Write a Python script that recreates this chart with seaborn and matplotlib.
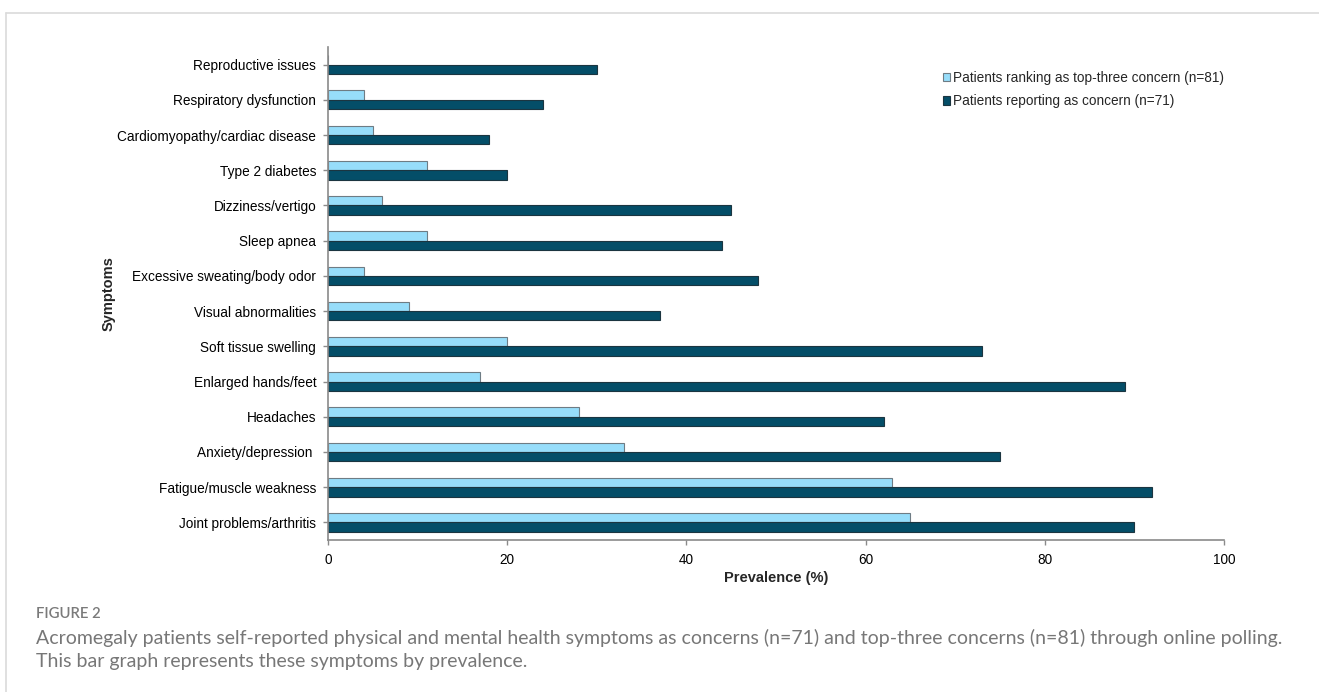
import matplotlib
matplotlib.use("Agg")
import matplotlib.pyplot as plt
from matplotlib.lines import Line2D
from matplotlib.patches import Patch
import pandas as pd
import seaborn as sns

symptoms = [
    "Reproductive issues",
    "Respiratory dysfunction",
    "Cardiomyopathy/cardiac disease",
    "Type 2 diabetes",
    "Dizziness/vertigo",
    "Sleep apnea",
    "Excessive sweating/body odor",
    "Visual abnormalities",
    "Soft tissue swelling",
    "Enlarged hands/feet",
    "Headaches",
    "Anxiety/depression ",
    "Fatigue/muscle weakness",
    "Joint problems/arthritis",
]
top_three = [0, 4, 5, 11, 6, 11, 4, 9, 20, 17, 28, 33, 63, 65]
reporting = [30, 24, 18, 20, 45, 44, 48, 37, 73, 89, 62, 75, 92, 90]

series_top = "Patients ranking as top-three concern (n=81)"
series_rep = "Patients reporting as concern (n=71)"
x_ticks = [0, 20, 40, 60, 80, 100]

caption_head = "FIGURE 2"
caption_lines = [
    "Acromegaly patients self-reported physical and mental health symptoms as "
    "concerns (n=71) and top-three concerns (n=81) through online polling.",
    "This bar graph represents these symptoms by prevalence.",
]

df = pd.DataFrame({
    "Symptom": symptoms * 2,
    "Prevalence": top_three + reporting,
    "Group": [series_top] * len(symptoms) + [series_rep] * len(symptoms),
})

light = "#97DDFA"
dark = "#044E68"
light_edge = "#6E7C84"
dark_edge = "#1B3540"
axis_gray = "#8A8A8A"

sns.set_style("white")
plt.rcParams["font.family"] = ["Liberation Sans", "DejaVu Sans"]

W, H = 1319, 692
fig = plt.figure(figsize=(W / 100, H / 100), dpi=100)
ax = fig.add_axes([328 / W, 1 - 540 / H, (1224 - 328) / W, (540 - 47) / H])

sns.barplot(
    data=df, x="Prevalence", y="Symptom", hue="Group", order=symptoms,
    hue_order=[series_top, series_rep], palette=[light, dark],
    orient="h", width=0.53, gap=0, dodge=True, saturation=1,
    errorbar=None, ax=ax, legend=False,
)

for bar, grp in zip(ax.patches, [series_top] * len(symptoms) + [series_rep] * len(symptoms)):
    bar.set_edgecolor(light_edge if grp == series_top else dark_edge)
    bar.set_linewidth(0.8)

ax.set_xlim(0, 100)
ax.set_ylim(len(symptoms) - 0.5, -0.5)
ax.set_xticks(x_ticks)
ax.set_xticklabels([str(t) for t in x_ticks])

for side in ["top", "right"]:
    ax.spines[side].set_visible(False)
for side in ["left", "bottom"]:
    ax.spines[side].set_color(axis_gray)
    ax.spines[side].set_linewidth(1.2)

ax.tick_params(axis="both", which="major", direction="out", length=3.5, width=1,
               color=axis_gray, labelsize=9.8, labelcolor="black", left=True, bottom=True)
ax.tick_params(axis="y", pad=5)
ax.tick_params(axis="x", pad=6)

ax.set_xlabel("Prevalence (%)", fontsize=10.5, fontweight="bold", labelpad=3)
ax.set_ylabel("Symptoms", fontsize=10.5, fontweight="bold")
ax.yaxis.set_label_coords((116 - 328) / (1224 - 328), 0.5)

handles = [Patch(facecolor=light, edgecolor=light_edge, linewidth=0.8),
           Patch(facecolor=dark, edgecolor=dark_edge, linewidth=0.8)]
ax.legend(handles, [series_top, series_rep], loc="upper left",
          bbox_to_anchor=((943 - 328) / (1224 - 328), 1 - (71 - 47) / (540 - 47)),
          frameon=False, fontsize=9.8, handlelength=0.55, handleheight=0.55,
          handletextpad=0.2, labelspacing=0.68, borderaxespad=0, borderpad=0)

# page frame
fig.add_artist(Line2D([6 / W, 1], [1 - 13 / H, 1 - 13 / H],
                      transform=fig.transFigure, color="#DADADA", linewidth=1.2))
fig.add_artist(Line2D([6 / W, 6 / W], [0, 1 - 13 / H],
                      transform=fig.transFigure, color="#DADADA", linewidth=1.2))

fig.text(36 / W, 1 - 614 / H, caption_head, fontsize=10.7, color="#7A7A7A",
         fontweight="semibold", family=["Lato", "DejaVu Sans"], va="center", ha="left")
for y_px, line in zip([638, 662], caption_lines):
    fig.text(36 / W, 1 - y_px / H, line, fontsize=14, color="#777777",
             family=["Lato", "DejaVu Sans"], va="center", ha="left")

fig.savefig("out.png", dpi=100, facecolor="white")
